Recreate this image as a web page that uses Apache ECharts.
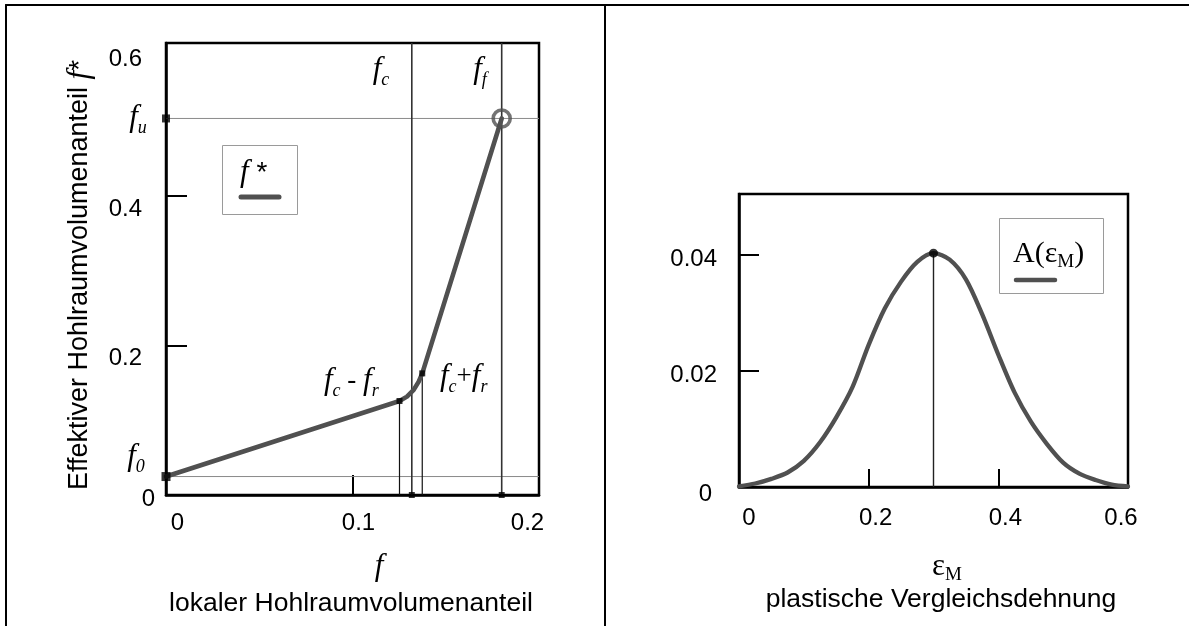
<!DOCTYPE html>
<html>
<head>
<meta charset="utf-8">
<script src="https://cdn.jsdelivr.net/npm/echarts@6/dist/echarts.min.js"></script>
<style>
  html, body { margin: 0; padding: 0; background: #fff; }
  #main { width: 1189px; height: 626px; }
</style>
</head>
<body>
<div id="main"></div>
<script>
// left panel: f* over f
const fStarX = [0, 0.1252, 0.1292, 0.1328, 0.1355, 0.1374, 0.18]
const fStarY = [0.0247, 0.1258, 0.1317, 0.1407, 0.1518, 0.1628, 0.504]
const f0 = 0.0247
const fu = 0.504
const fc = 0.1318
const fcMinusFr = 0.1252
const fcPlusFr = 0.1374
const ff = 0.18
const leftXLabels = [0, 0.1, 0.2]
const leftYLabels = [0, 0.2, 0.4, 0.6]
const leftXTicks = [0.1]
const leftYTicks = [0.2, 0.4]

// right panel: A(eps_M)
const epsX = [0, 0.025, 0.05, 0.075, 0.1, 0.125, 0.15, 0.175, 0.2, 0.225, 0.25, 0.275, 0.3,
  0.325, 0.35, 0.375, 0.4, 0.425, 0.45, 0.475, 0.5, 0.525, 0.55, 0.575, 0.6]
const aY = [0.0001, 0.0006, 0.0014, 0.0025, 0.0045, 0.0077, 0.012, 0.0172, 0.0245, 0.0308, 0.0354, 0.0388, 0.0403,
  0.0392, 0.0358, 0.0298, 0.0228, 0.0163, 0.0113, 0.0074, 0.0042, 0.0023, 0.0012, 0.0004, 0.0001]
const epsPeak = 0.3
const aPeak = 0.0403
const rightXLabels = [0, 0.2, 0.4, 0.6]
const rightYLabels = [0, 0.02, 0.04]
const rightXTicks = [0.2, 0.4]
const rightYTicks = [0.02, 0.04]

const SANS = 'Liberation Sans, Arial, sans-serif'
const SERIF = 'Liberation Serif, Times New Roman, serif'
const CURVE = '#505050'

const chart = echarts.init(document.getElementById('main'))

const pairs = (xs, ys) => xs.map((x, i) => [x, ys[i]])

function tickLabel (pad) {
  return { fontFamily: SANS, fontSize: 24, color: '#000', padding: pad }
}

function refLine (data, xi, color, width) {
  return {
    type: 'line', xAxisIndex: xi, yAxisIndex: xi, data: data, symbol: 'none', silent: true,
    lineStyle: { color: color, width: width }, z: 1
  }
}

// rich styles for the math-like labels (subscripts sit at the bottom of a taller line)
const math = {
  f: { fontFamily: SERIF, fontStyle: 'italic', fontSize: 31, lineHeight: 38, fill: '#000' },
  s: { fontFamily: SERIF, fontStyle: 'italic', fontSize: 18, fill: '#000', verticalAlign: 'bottom' },
  o: { fontFamily: SERIF, fontSize: 27, fill: '#000' },
  g: { fontFamily: SERIF, fontSize: 30, lineHeight: 36, fill: '#000' },
  e: { fontFamily: SERIF, fontSize: 31, lineHeight: 36, fill: '#000' },
  m: { fontFamily: SERIF, fontSize: 19, fill: '#000', verticalAlign: 'bottom' },
  a: { fontFamily: SANS, fontSize: 28, fill: '#000' },
  t: { fontFamily: SANS, fontSize: 26.5, fill: '#000' },
  y: { fontFamily: SANS, fontSize: 27, fill: '#000' }
}

function label (x, y, text, align, extra) {
  return Object.assign({
    type: 'text', x: x, y: y, silent: true, z: 10,
    style: {
      text: text, rich: math, fontFamily: SANS, fontSize: 26, fill: '#000',
      align: align || 'center', verticalAlign: 'middle',
      textAlign: align || 'center', textVerticalAlign: 'middle'
    }
  }, extra || {})
}

function seg (x1, y1, x2, y2, color, w, z) {
  return {
    type: 'line', silent: true, z: z || 0,
    shape: { x1: x1, y1: y1, x2: x2, y2: y2 },
    style: { stroke: color, lineWidth: w, lineCap: 'round' }
  }
}

const option = {
  animation: false,
  backgroundColor: '#fff',
  grid: [
    { left: 166, top: 43, width: 373, height: 452, show: true, borderColor: '#000', borderWidth: 2.5, outerBoundsMode: 'none' },
    { left: 739, top: 194, width: 389, height: 293, show: true, borderColor: '#000', borderWidth: 2.5, outerBoundsMode: 'none' }
  ],
  xAxis: [
    {
      type: 'value', gridIndex: 0, min: 0, max: 0.2,
      axisLine: { show: true, onZero: false, lineStyle: { color: '#000', width: 2.5 } },
      axisTick: { show: true, inside: true, length: 20, customValues: leftXTicks, lineStyle: { color: '#000', width: 2 } },
      axisLabel: {
        customValues: leftXLabels, margin: 16,
        formatter: v => v === 0 ? '{a|0}' : (v === 0.1 ? '{b|0.1}' : '{c|0.2}'),
        rich: { a: tickLabel([0, 0, 0, 23]), b: tickLabel([0, 0, 0, 12]), c: tickLabel([0, 23, 0, 0]) }
      },
      splitLine: { show: false }
    },
    {
      type: 'value', gridIndex: 1, min: 0, max: 0.6,
      axisLine: { show: true, onZero: false, lineStyle: { color: '#000', width: 2.5 } },
      axisTick: { show: true, inside: true, length: 18, customValues: rightXTicks, lineStyle: { color: '#000', width: 2 } },
      axisLabel: {
        customValues: rightXLabels, margin: 19,
        formatter: v => v === 0 ? '{a|0}' : (v === 0.6 ? '{c|0.6}' : '{b|' + v + '}'),
        rich: { a: tickLabel([0, 0, 0, 20]), b: tickLabel([0, 0, 0, 14]), c: tickLabel([0, 14, 0, 0]) }
      },
      splitLine: { show: false }
    }
  ],
  yAxis: [
    {
      type: 'value', gridIndex: 0, min: 0, max: 0.605,
      axisLine: { show: true, onZero: false, lineStyle: { color: '#000', width: 2.5 } },
      axisTick: { show: true, inside: true, length: 21, customValues: leftYTicks, lineStyle: { color: '#000', width: 2 } },
      axisLabel: {
        customValues: leftYLabels, margin: 11,
        formatter: v => v === 0 ? '{z|0}' : '{n|' + v + '}',
        rich: { z: tickLabel([8, 0, 0, 0]), n: tickLabel([26, 13, 0, 0]) }
      },
      splitLine: { show: false }
    },
    {
      type: 'value', gridIndex: 1, min: 0, max: 0.0505,
      axisLine: { show: true, onZero: false, lineStyle: { color: '#000', width: 2.5 } },
      axisTick: { show: true, inside: true, length: 20, customValues: rightYTicks, lineStyle: { color: '#000', width: 2 } },
      axisLabel: {
        customValues: rightYLabels, margin: 22,
        formatter: v => v === 0 ? '{z|0}' : '{n|' + v + '}',
        rich: { z: tickLabel([14, 5, 0, 0]), n: tickLabel([9, 0, 0, 0]) }
      },
      splitLine: { show: false }
    }
  ],
  series: [
    refLine([[0, fu], [0.2, fu]], 0, '#8a8a8a', 1),
    refLine([[0, f0], [0.2, f0]], 0, '#8a8a8a', 1),
    refLine([[fc, 0], [fc, 0.605]], 0, '#333', 1.6),
    refLine([[ff, 0], [ff, 0.605]], 0, '#333', 1.6),
    refLine([[fcMinusFr, 0], [fcMinusFr, fStarY[1]]], 0, '#111', 1.2),
    refLine([[fcPlusFr, 0], [fcPlusFr, fStarY[5]]], 0, '#111', 1.2),
    {
      name: 'f*', type: 'line', xAxisIndex: 0, yAxisIndex: 0, data: pairs(fStarX, fStarY),
      symbol: 'none', lineStyle: { color: CURVE, width: 4.6, cap: 'round', join: 'round' }, z: 3
    },
    {
      type: 'scatter', xAxisIndex: 0, yAxisIndex: 0, symbol: 'rect', silent: true, z: 5,
      itemStyle: { color: '#000' },
      data: [
        { value: [0, f0], symbolSize: 9 },
        { value: [0, fu], symbolSize: 8 },
        { value: [fcMinusFr, fStarY[1]], symbolSize: 6 },
        { value: [fcPlusFr, fStarY[5]], symbolSize: 6 },
        { value: [fc, 0], symbolSize: 6 },
        { value: [ff, 0], symbolSize: 6 }
      ]
    },
    {
      type: 'scatter', xAxisIndex: 0, yAxisIndex: 0, symbol: 'circle', symbolSize: 17, silent: true, z: 6,
      itemStyle: { color: 'rgba(0,0,0,0)', borderColor: CURVE, borderWidth: 3.6 },
      data: [[ff, fu]]
    },
    refLine([[epsPeak, 0], [epsPeak, aPeak]], 1, '#222', 1.4),
    {
      name: 'A', type: 'line', xAxisIndex: 1, yAxisIndex: 1, data: pairs(epsX, aY),
      smooth: 0.3, symbol: 'none', lineStyle: { color: CURVE, width: 4.3, cap: 'round' }, z: 3
    },
    {
      type: 'scatter', xAxisIndex: 1, yAxisIndex: 1, symbol: 'circle', symbolSize: 9, silent: true, z: 6,
      itemStyle: { color: '#000' },
      data: [[epsPeak, aPeak]]
    }
  ],
  graphic: [
    // page frame
    seg(6, 5, 1189, 5, '#000', 2),
    seg(6, 5, 6, 626, '#000', 2),
    seg(605, 5, 605, 626, '#000', 2),
    // left legend
    { type: 'rect', silent: true, z: 8, shape: { x: 222.5, y: 145.5, width: 75, height: 69 }, style: { fill: '#fff', stroke: '#9a9a9a', lineWidth: 1 } },
    label(240, 173, '{f|f}{a| *}', 'left'),
    seg(241, 197, 279, 197, CURVE, 5, 9),
    // right legend
    { type: 'rect', silent: true, z: 8, shape: { x: 999.5, y: 218.5, width: 104, height: 75 }, style: { fill: '#fff', stroke: '#9a9a9a', lineWidth: 1 } },
    label(1013, 254, '{g|A(ε}{m|M}{g|)}', 'left'),
    seg(1016, 280, 1055, 280, CURVE, 4.5, 9),
    // annotation labels
    label(381, 70, '{f|f}{s|c}'),
    label(480, 70, '{f|f}{s|f}'),
    label(138, 118, '{f|f}{s|u}'),
    label(136, 457, '{f|f}{s|0}'),
    label(324, 381, '{f|f}{s|c}{o| - }{f|f}{s|r}', 'left'),
    label(440, 377, '{f|f}{s|c}{o|+}{f|f}{s|r}', 'left'),
    // axis names
    label(379, 567, '{f|f}'),
    label(351, 604, '{t|lokaler Hohlraumvolumenanteil}'),
    label(80, 275, '{y|Effektiver Hohlraumvolumenanteil }{f|f}{a|*}', 'center', { rotation: Math.PI / 2 }),
    label(947, 567, '{e|ε}{m|M}'),
    label(941, 600, '{t|plastische Vergleichsdehnung}')
  ]
}

chart.setOption(option)
</script>
</body>
</html>
